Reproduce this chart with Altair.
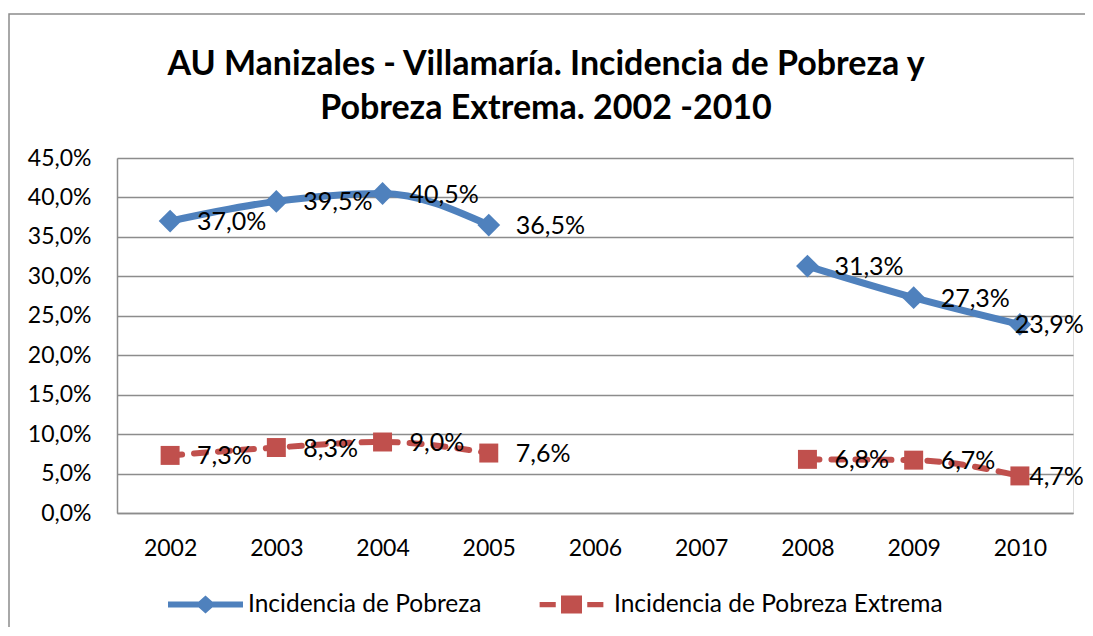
import altair as alt
import pandas as pd

years = ["2002", "2003", "2004", "2005", "2006", "2007", "2008", "2009", "2010"]
pobreza = [37.0, 39.5, 40.5, 36.5, None, None, 31.3, 27.3, 23.9]
extrema = [7.3, 8.3, 9.0, 7.6, None, None, 6.8, 6.7, 4.7]
series_names = ["Incidencia de Pobreza", "Incidencia de Pobreza Extrema"]
y_ticks = [0, 5, 10, 15, 20, 25, 30, 35, 40, 45]
title_lines = ["AU Manizales - Villamaría. Incidencia de Pobreza y",
               "Pobreza Extrema. 2002 -2010"]

BLUE = "#4F81BD"
RED = "#C0504D"
GRID = "#8C8C8C"
FONT = "Lato"

rows = []
for name, vals in zip(series_names, [pobreza, extrema]):
    for yr, v in zip(years, vals):
        if v is None:
            continue
        rows.append({
            "year": yr,
            "value": v,
            "series": name,
            "segment": name + ("-a" if int(yr) <= 2005 else "-b"),
            "label": f"{v:.1f}".replace(".", ",") + "%",
            "last": yr == years[-1],
        })
df = pd.DataFrame(rows)

W, H = 956, 355

x_enc = alt.X("year:O", scale=alt.Scale(type="point", domain=years, padding=0.5),
              axis=alt.Axis(title=None, labelAngle=0, ticks=False, tickSize=0, grid=False,
                            domain=True, domainColor=GRID, domainWidth=1.5,
                            labelFont=FONT, labelFontSize=23, labelColor="#000",
                            labelPadding=24))
y_enc = alt.Y("value:Q", scale=alt.Scale(domain=[0, 45], nice=False),
              axis=alt.Axis(title=None, values=y_ticks, ticks=False, tickSize=0,
                            grid=True, gridColor=GRID, gridWidth=1.5,
                            domain=True, domainColor=GRID, domainWidth=1.5,
                            labelFont=FONT, labelFontSize=23, labelColor="#000",
                            labelPadding=26,
                            labelExpr="replace(format(datum.value, '.1f'), '.', ',') + '%'"))

base = alt.Chart(df)

blue_line = base.transform_filter(alt.datum.series == series_names[0]).mark_line(
    color=BLUE, strokeWidth=7, interpolate="monotone", strokeCap="round", strokeJoin="round"
).encode(x=x_enc, y=y_enc, detail="segment:N")

red_line = base.transform_filter(alt.datum.series == series_names[1]).mark_line(
    color=RED, strokeWidth=6, interpolate="monotone", strokeCap="round", strokeDash=[12, 12]
).encode(x=x_enc, y=y_enc, detail="segment:N")

blue_pts = base.transform_filter(alt.datum.series == series_names[0]).mark_point(
    color=BLUE, shape="diamond", filled=True, size=520, opacity=1
).encode(x=x_enc, y=y_enc)

red_pts = base.transform_filter(alt.datum.series == series_names[1]).mark_point(
    color=RED, shape="square", filled=True, size=360, opacity=1
).encode(x=x_enc, y=y_enc)

labels = base.transform_filter("!datum.last").mark_text(
    align="left", baseline="middle", dx=27, dy=1, font=FONT, fontSize=25, color="#000"
).encode(x=x_enc, y=y_enc, text="label:N")

labels_last = base.transform_filter("datum.last").mark_text(
    align="right", baseline="middle", dx=64, dy=1, font=FONT, fontSize=25, color="#000"
).encode(x=x_enc, y=y_enc, text="label:N")

# legend-only layer (no rows drawn)
blue_sym = ("M-1,-0.08 L-0.18,-0.08 L0,-0.24 L0.18,-0.08 L1,-0.08 L1,0.08 "
            "L0.18,0.08 L0,0.24 L-0.18,0.08 L-1,0.08 Z")
red_sym = ("M-0.85,-0.07 L-0.42,-0.07 L-0.42,0.07 L-0.85,0.07 Z "
           "M-0.28,-0.24 L0.28,-0.24 L0.28,0.24 L-0.28,0.24 Z "
           "M0.42,-0.07 L0.85,-0.07 L0.85,0.07 L0.42,0.07 Z")
leg = alt.Legend(title=None, orient="none", direction="horizontal",
                 legendX=51, legendY=409, symbolSize=5625, symbolStrokeWidth=0,
                 symbolOpacity=1, labelFont=FONT, labelFontSize=24.5, labelColor="#000",
                 labelOffset=5, columnPadding=52, padding=0, labelLimit=500)
legend_layer = base.transform_filter("false").mark_point(filled=True, opacity=1).encode(
    x=x_enc, y=y_enc,
    color=alt.Color("series:N", scale=alt.Scale(domain=series_names, range=[BLUE, RED]),
                    legend=leg),
    shape=alt.Shape("series:N", scale=alt.Scale(domain=series_names, range=[blue_sym, red_sym]),
                    legend=leg),
)

one = pd.DataFrame({"k": [0]})
border = alt.Chart(one).mark_rect(
    fill=None, stroke="#8C8C8C", strokeWidth=1.5, clip=False
).encode(x=alt.value(-108), x2=alt.value(1200), y=alt.value(-144), y2=alt.value(800))

title_kw = dict(font=FONT, fontSize=34, fontWeight="bold", color="#000",
                align="center", baseline="alphabetic")
title1 = alt.Chart(one).mark_text(**title_kw).encode(
    text=alt.value(title_lines[0]), x=alt.value(429), y=alt.value(-83))
title2 = alt.Chart(one).mark_text(**title_kw).encode(
    text=alt.value(title_lines[1]), x=alt.value(429), y=alt.value(-39))

chart = alt.layer(
    border, blue_line, red_line, blue_pts, red_pts, labels, labels_last, legend_layer,
    title1, title2
).properties(
    width=W, height=H,
    padding={"left": 109, "top": 150, "right": 12, "bottom": 114},
    autosize=alt.AutoSizeParams(type="none"),
).configure_view(stroke=None).configure(background="white")

chart.save("out.html", embed_options={"renderer": "svg", "actions": False})
